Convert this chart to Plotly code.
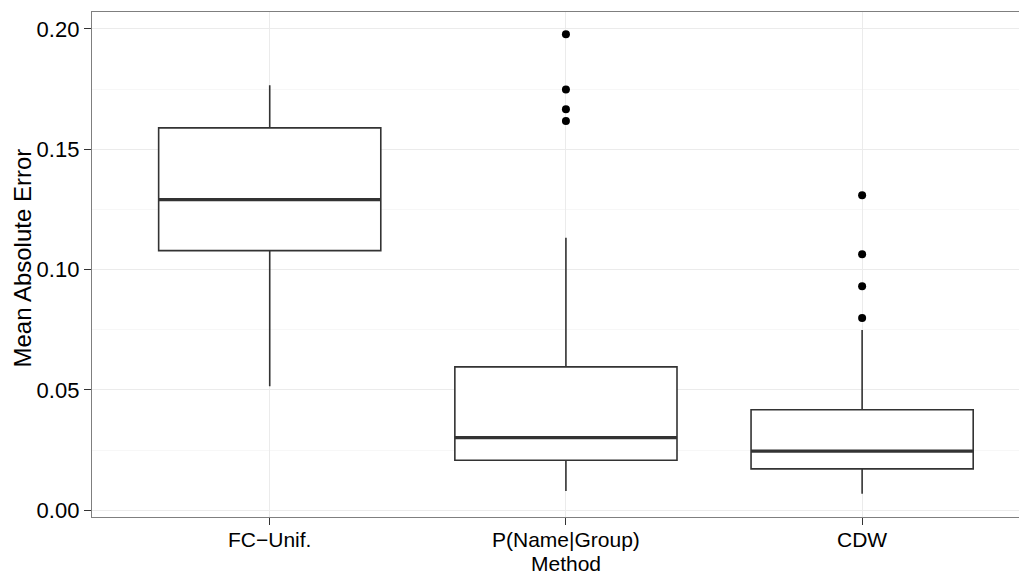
import plotly.graph_objects as go

categories = ["FC\u2212Unif.", "P(Name|Group)", "CDW"]
xpos = [1, 2, 3]
q1 = [0.1079, 0.0208, 0.0172]
median = [0.1291, 0.0302, 0.0246]
q3 = [0.1589, 0.0596, 0.0418]
lowerfence = [0.0516, 0.0080, 0.0069]
upperfence = [0.1766, 0.1133, 0.0749]
outliers = [[], [0.1978, 0.1749, 0.1666, 0.1618], [0.1309, 0.1064, 0.0931, 0.0799]]

box_width = 0.75
line_col = "#333333"
font_family = "Liberation Sans, Arial, Helvetica, sans-serif"

fig = go.Figure()
fig.add_trace(go.Box(
    x=xpos, q1=q1, median=median, q3=q3,
    lowerfence=lowerfence, upperfence=upperfence,
    width=box_width, whiskerwidth=0, boxpoints=False,
    fillcolor="white", line=dict(color=line_col, width=1.6),
    showlegend=False, hoverinfo="skip",
))

# thicker median lines (ggplot fatten)
mx, my = [], []
for c, m in zip(xpos, median):
    mx += [c - box_width / 2, c + box_width / 2, None]
    my += [m, m, None]
fig.add_trace(go.Scatter(x=mx, y=my, mode="lines",
                         line=dict(color=line_col, width=3.4),
                         showlegend=False, hoverinfo="skip"))

ox, oy = [], []
for c, vals in zip(xpos, outliers):
    ox += [c] * len(vals)
    oy += vals
fig.add_trace(go.Scatter(x=ox, y=oy, mode="markers",
                         marker=dict(color="black", size=8),
                         showlegend=False, hoverinfo="skip"))

# page body has an 8px margin: margins below compensate for it
fig.update_layout(
    width=1027, height=573,
    margin=dict(l=84, r=8, t=4, b=64),
    paper_bgcolor="white", plot_bgcolor="white",
    font=dict(family=font_family, size=21, color="black"),
    xaxis=dict(
        range=[0.4, 0.4 + 935 / 296.2],
        tickmode="array", tickvals=xpos, ticktext=categories,
        showgrid=True, gridcolor="#ebebeb", gridwidth=1,
        zeroline=False,
        showline=True, linecolor="#7f7f7f", linewidth=1.4, mirror=True,
        ticks="outside", ticklen=7, tickcolor=line_col, tickwidth=1.4,
        ticklabelstandoff=-3,
        tickfont=dict(size=21, color="black"),
    ),
    yaxis=dict(
        range=[-0.00278, 0.20706],
        tickmode="array", tickvals=[0.0, 0.05, 0.10, 0.15, 0.20],
        ticktext=["0.00", "0.05", "0.10", "0.15", "0.20"],
        showgrid=True, gridcolor="#ebebeb", gridwidth=1,
        minor=dict(tickmode="array", tickvals=[0.025, 0.075, 0.125, 0.175],
                   showgrid=True, gridcolor="#f7f7f7", ticks=""),
        zeroline=False,
        showline=True, linecolor="#7f7f7f", linewidth=1.4, mirror=False,
        ticks="outside", ticklen=7, tickcolor=line_col, tickwidth=1.4,
        tickfont=dict(size=22, color="black"),
    ),
    annotations=[
        dict(text="Method", x=2, xref="x", y=0, yref="paper",
             yanchor="middle", xanchor="center", yshift=-46,
             showarrow=False, font=dict(size=21, color="black")),
        dict(text="Mean Absolute Error", x=0, xref="paper", y=0.5, yref="paper",
             xanchor="center", yanchor="middle", xshift=-70, yshift=6, textangle=-90,
             showarrow=False, font=dict(size=24, color="black")),
    ],
)

fig.write_html("out.html")
